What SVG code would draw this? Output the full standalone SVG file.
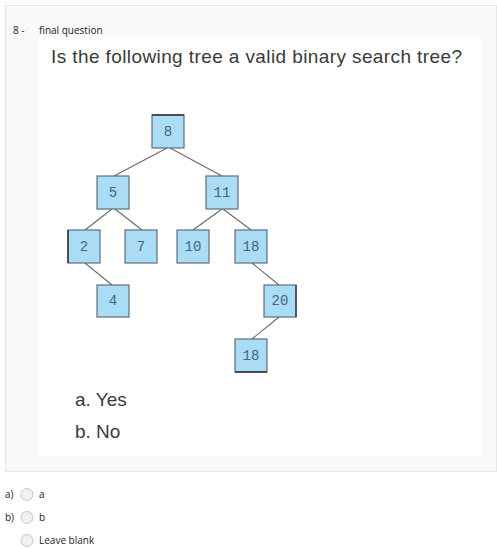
<svg xmlns="http://www.w3.org/2000/svg" width="497" height="549" viewBox="0 0 497 549">
<style>
.small{font-family:"Open Sans","Noto Sans",sans-serif;font-size:10px;fill:#222}
.big{font-family:"Liberation Sans","Noto Sans",sans-serif;font-size:19px;fill:#3a3a3a}
.box{fill:#aadcf5;stroke:#5f6f7c;stroke-width:1.2}
.lbl{font-family:"Liberation Mono","DejaVu Sans Mono",monospace;font-size:14px;fill:#45657d;text-anchor:middle}
.edge{stroke:#6a6a6a;stroke-width:1.1;fill:none}
.radio{fill:#f0f0f0;stroke:#c8c8c8;stroke-width:1}
</style>
<rect x="0" y="0" width="497" height="549" fill="#ffffff"/>
<rect x="5.5" y="5.5" width="491" height="466" fill="#f9f9f9" stroke="#e6e6e6" stroke-width="1"/>
<rect x="39" y="37" width="442" height="420" fill="#ffffff"/>
<text class="small" x="13" y="34">8 -</text>
<text class="small" x="39" y="34">final question</text>
<text class="big" x="51" y="63" textLength="411">Is the following tree a valid binary search tree?</text>
<g id="connectors">
<line class="edge" x1="167" y1="148" x2="114" y2="176"/>
<line class="edge" x1="170" y1="148" x2="222" y2="176"/>
<line class="edge" x1="112" y1="209" x2="85" y2="230"/>
<line class="edge" x1="115" y1="209" x2="142" y2="230"/>
<line class="edge" x1="222" y1="209" x2="193" y2="230"/>
<line class="edge" x1="223" y1="209" x2="251" y2="230"/>
<line class="edge" x1="85" y1="263" x2="112" y2="285"/>
<line class="edge" x1="252" y1="263" x2="279" y2="285"/>
<line class="edge" x1="279" y1="317" x2="252" y2="339"/>
</g>
<g id="n8"><rect class="box" x="152" y="115" width="32" height="33"/><line x1="152" y1="115" x2="184" y2="115" stroke="#333" stroke-width="1.5"/><text class="lbl" x="168" y="136">8</text></g>
<g id="n5"><rect class="box" x="97" y="176" width="32" height="33"/><text class="lbl" x="113" y="197">5</text></g>
<g id="n11"><rect class="box" x="206" y="176" width="32" height="33"/><text class="lbl" x="222" y="197">11</text></g>
<g id="n2"><rect class="box" x="68" y="230" width="32" height="33"/><line x1="68" y1="230" x2="68" y2="263" stroke="#333" stroke-width="1.5"/><text class="lbl" x="84" y="251">2</text></g>
<g id="n7"><rect class="box" x="125" y="230" width="32" height="33"/><text class="lbl" x="141" y="251">7</text></g>
<g id="n10"><rect class="box" x="177" y="230" width="32" height="33"/><text class="lbl" x="193" y="251">10</text></g>
<g id="n18"><rect class="box" x="235" y="230" width="32" height="33"/><text class="lbl" x="251" y="251">18</text></g>
<g id="n4"><rect class="box" x="97" y="285" width="32" height="32"/><text class="lbl" x="113" y="305">4</text></g>
<g id="n20"><rect class="box" x="264" y="285" width="32" height="32"/><line x1="296" y1="285" x2="296" y2="317" stroke="#333" stroke-width="1.3"/><text class="lbl" x="280" y="305">20</text></g>
<g id="n18b"><rect class="box" x="235" y="339" width="32" height="33"/><line x1="235" y1="372" x2="267" y2="372" stroke="#333" stroke-width="1.5"/><text class="lbl" x="251" y="360">18</text></g>
<text class="big" x="75" y="406">a. Yes</text>
<text class="big" x="75" y="438">b. No</text>
<text class="small" x="5" y="498">a)</text>
<circle class="radio" cx="27" cy="494.5" r="6"/>
<text class="small" x="39" y="498">a</text>
<text class="small" x="5" y="521">b)</text>
<circle class="radio" cx="27" cy="517.5" r="6"/>
<text class="small" x="39" y="521">b</text>
<circle class="radio" cx="27" cy="540.5" r="6"/>
<text class="small" x="39" y="544">Leave blank</text>
</svg>
